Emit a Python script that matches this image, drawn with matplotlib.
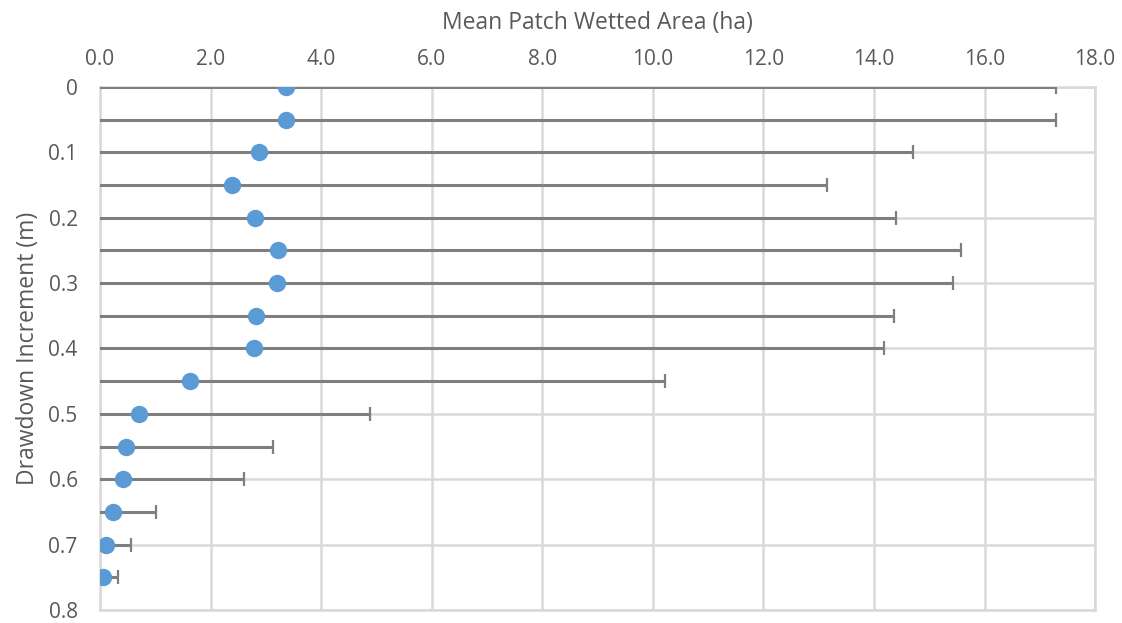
import matplotlib.pyplot as plt

# drawdown increments (m) with mean wetted patch area and its standard deviation (ha)
drawdown = [0.0, 0.05, 0.1, 0.15, 0.2, 0.25, 0.3, 0.35, 0.4, 0.45, 0.5, 0.55, 0.6, 0.65, 0.7, 0.75]
mean_area = [3.36, 3.36, 2.88, 2.39, 2.80, 3.22, 3.20, 2.82, 2.79, 1.63, 0.71, 0.47, 0.42, 0.24, 0.11, 0.05]
sd_area = [13.93, 13.93, 11.83, 10.76, 11.60, 12.36, 12.23, 11.54, 11.39, 8.59, 4.17, 2.66, 2.18, 0.77, 0.45, 0.28]

xticks = [0, 2, 4, 6, 8, 10, 12, 14, 16, 18]
yticks = [0, 0.1, 0.2, 0.3, 0.4, 0.5, 0.6, 0.7, 0.8]
ytick_labels = ['0', '0.1', '0.2', '0.3', '0.4', '0.5', '0.6', '0.7', '0.8']

plt.rcParams['font.family'] = ['Open Sans', 'DejaVu Sans']
text_color = '#595959'
grid_color = '#d9d9d9'

fig = plt.figure(figsize=(11.22, 6.23), dpi=100)
ax = fig.add_axes([0.0891, 0.0209, 0.8869, 0.8395])

ax.errorbar(mean_area, drawdown, xerr=sd_area, fmt='o', color='#5b9bd5',
            markersize=11.5, ecolor='#7f7f7f', elinewidth=2.2, capsize=4.7,
            capthick=1.6, zorder=3)

ax.set_xlim(0, 18)
ax.set_ylim(0.8, 0)
ax.set_xticks(xticks)
ax.set_xticklabels(['%.1f' % v for v in xticks])
ax.set_yticks(yticks)
ax.set_yticklabels(ytick_labels)

ax.xaxis.tick_top()
ax.xaxis.set_label_position('top')
ax.tick_params(axis='both', length=0, labelsize=15, colors=text_color)
ax.tick_params(axis='x', pad=12.5)
ax.tick_params(axis='y', pad=16)

ax.grid(True, color=grid_color, linewidth=1.8, zorder=0)
ax.set_axisbelow(True)
for spine in ax.spines.values():
    spine.set_color(grid_color)
    spine.set_linewidth(1.8)

ax.set_xlabel('Mean Patch Wetted Area (ha)', fontsize=16.5, color=text_color, labelpad=14)
ax.set_ylabel('Drawdown Increment (m)', fontsize=16.5, color=text_color, labelpad=6)

fig.savefig('out.png', dpi=100)
